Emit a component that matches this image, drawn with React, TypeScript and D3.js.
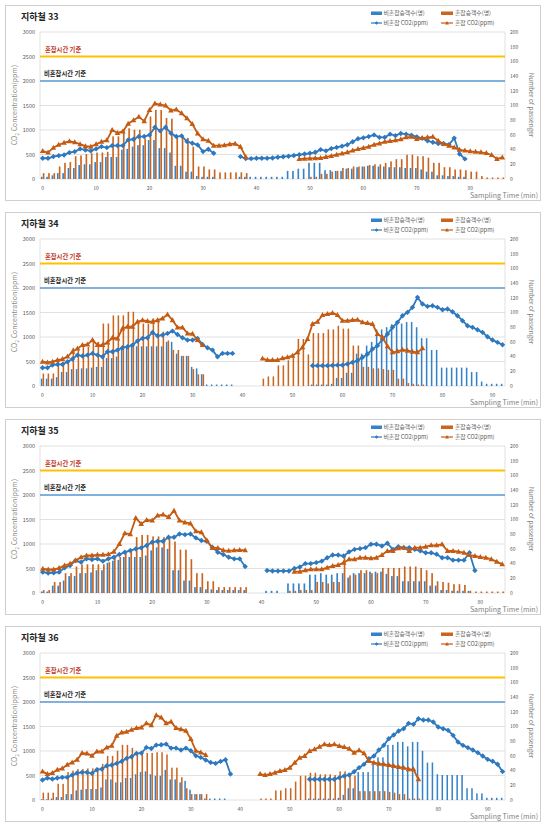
import React from 'react';
import * as d3 from 'd3';

const _ = null;

const titles = ['지하철 33', '지하철 34', '지하철 35', '지하철 36'];
const legendLabels = ['비혼잡승객수(명)', '혼잡승객수(명)', '비혼잡 CO2(ppm)', '혼잡 CO2(ppm)'];
const leftTicks = [0, 500, 1000, 1500, 2000, 2500, 3000];
const rightTicks = [0, 20, 40, 60, 80, 100, 120, 140, 160, 180, 200];
const limitValues = [2500, 2000];
const limitLabels = ['혼잡시간 기준', '비혼잡시간 기준'];

// ---- 지하철 33 ----
const blueCo2_33 = [
  423, 423, 457, 477, 491, 539, 559, 614, 593, 573,
  614, 661, 641, 682, 682, 682, 798, 811, 866, 866,
  900, 1057, 982, 1057, 934, 866, 880, 764, 730, 696,
  559, 607, 525, _, _, _, _, 457, 416, 416,
  423, 423, 423, 430, 445, 455, 465, 480, 495, 510,
  525, 545, 600, 575, 620, 645, 670, 700, 760, 820,
  840, 865, 900, 850, 850, 915, 885, 930, 915, 895,
  860, 830, 780, 750, 725, 725, 700, 835, 510, 410,
  _, _, _, _, _, _, _,
];
const orangeCo2_33 = [
  570, 540, 640, 700, 740, 770, 750, 710, 670, 660,
  710, 760, 790, 1000, 940, 970, 1130, 1200, 1270, 1180,
  1410, 1540, 1520, 1500, 1400, 1420, 1340, 1240, 1120, 930,
  810, 780, 680, 680, 690, 710, 720, 660, 450, _,
  _, _, _, _, _, _, _, _, 407, 415,
  420, 425, 428, 450, 470, 495, 520, 545, 580, 610,
  635, 660, 700, 725, 760, 775, 790, 810, 850, 860,
  815, 835, 850, 860, 780, 715, 680, 645, 595, 580,
  565, 555, 545, 530, 490, 410, 440,
];
const bluePax_33 = [
  3, 3, 5, 8, 8, 15, 15, 19, 20, 20,
  23, 23, 30, 30, 30, 40, 41, 44, 46, 46,
  53, 53, 42, 42, 36, 18, 18, 10, 10, 4,
  3, 3, 3, 0, 0, 0, 0, 3, 3, 3,
  3, 3, 3, 3, 3, 3, 11, 11, 14, 14,
  22, 22, 22, 12, 12, 11, 11, 14, 14, 16,
  17, 18, 18, 17, 17, 16, 16, 16, 15, 15,
  15, 13, 10, 10, 5, 5, 4, 4, 3, 3,
  0, 0, 0, 0, 0, 0, 0,
];
const orangePax_33 = [
  8, 8, 8, 17, 22, 23, 31, 32, 34, 35,
  36, 36, 37, 58, 58, 68, 69, 67, 67, 55,
  85, 94, 94, 83, 82, 58, 58, 56, 44, 17,
  17, 13, 13, 9, 9, 9, 9, 9, 8, 0,
  0, 0, 0, 0, 0, 0, 0, 0, 0, 0,
  3, 3, 7, 7, 10, 11, 15, 15, 17, 17,
  17, 19, 20, 20, 22, 24, 27, 27, 33, 33,
  31, 31, 29, 22, 22, 16, 16, 13, 13, 12,
  10, 10, 4, 2, 2, 2, 2,
];

// ---- 지하철 34 ----
const blueCo2_34 = [
  373, 373, 428, 441, 441, 496, 550, 631, 611, 631,
  665, 631, 598, 700, 700, 733, 781, 801, 835, 917,
  971, 985, 1093, 1025, 1039, 1073, 1120, 1052, 985, 937,
  937, 971, 849, 781, 733, 598, 665, 665, 665, _,
  _, _, _, _, _, _, _, _, _, _,
  _, _, _, _, 415, 415, 415, 415, 420, 425,
  425, 449, 483, 517, 585, 653, 755, 823, 959, 1061,
  1197, 1299, 1435, 1503, 1605, 1809, 1673, 1625, 1639, 1605,
  1557, 1571, 1516, 1435, 1333, 1231, 1197, 1149, 1095, 1006,
  938, 891, 843,
];
const orangeCo2_34 = [
  496, 482, 496, 530, 550, 600, 700, 767, 835, 849,
  937, 835, 835, 890, 985, 970, 1175, 1209, 1209, 1310,
  1344, 1324, 1310, 1344, 1378, 1460, 1344, 1195, 1195, 1073,
  1066, 937, 835, _, _, _, _, _, _, _,
  _, _, _, _, 560, 530, 530, 530, 564, 585,
  619, 687, 789, 959, 1265, 1312, 1448, 1469, 1489, 1448,
  1333, 1333, 1346, 1353, 1299, 1285, 1265, 1061, 993, 809,
  687, 707, 741, 721, 700, 687, 768, _, _, _,
  _, _, _, _, _, _, _, _, _, _,
  _, _, _,
];
const bluePax_34 = [
  10, 10, 10, 12, 19, 19, 23, 23, 24, 24,
  25, 26, 26, 38, 38, 40, 51, 53, 56, 54,
  54, 54, 54, 54, 54, 60, 60, 44, 41, 41,
  26, 24, 16, 2, 2, 2, 2, 2, 2, 0,
  0, 0, 0, 0, 0, 0, 0, 0, 0, 0,
  0, 0, 0, 0, 2, 2, 2, 2, 3, 11,
  11, 18, 18, 44, 44, 55, 60, 77, 77, 80,
  84, 85, 85, 87, 87, 80, 65, 65, 49, 49,
  25, 25, 25, 25, 25, 25, 19, 19, 6, 3,
  3, 3, 3,
];
const orangePax_34 = [
  17, 17, 17, 33, 33, 33, 52, 52, 53, 53,
  60, 60, 85, 85, 96, 96, 96, 101, 101, 85,
  85, 85, 92, 90, 74, 62, 49, 49, 41, 41,
  23, 16, 16, 0, 0, 0, 0, 0, 0, 0,
  0, 0, 0, 0, 10, 13, 13, 28, 28, 35,
  43, 64, 64, 43, 72, 72, 72, 77, 77, 82,
  78, 78, 55, 55, 26, 26, 24, 24, 23, 22,
  22, 10, 10, 4, 3, 2, 2, 0, 0, 0,
  0, 0, 0, 0, 0, 0, 0, 0, 0, 0,
  0, 0, 0,
];

// ---- 지하철 35 ----
const blueCo2_35 = [
  426, 406, 413, 426, 514, 562, 663, 630, 697, 684,
  697, 650, 697, 731, 785, 833, 867, 900, 921, 968,
  1036, 1056, 1056, 1137, 1137, 1205, 1191, 1205, 1124, 1070,
  1056, 934, 833, 785, 731, 697, 697, 542, _, _,
  _, 460, 450, 450, 450, 450, 500, 530, 600, 600,
  620, 650, 720, 775, 775, 755, 840, 890, 905, 925,
  995, 995, 960, 1015, 890, 945, 925, 925, 890, 860,
  820, 820, 790, 720, 720, 670, 670, 670, 820, 460,
  _, _, _, _, _,
];
const orangeCo2_35 = [
  494, 480, 480, 508, 562, 596, 663, 731, 765, 765,
  779, 779, 790, 840, 1000, 1220, 1200, 1530, 1410, 1490,
  1480, 1580, 1600, 1550, 1680, 1480, 1440, 1420, 1260, 1240,
  1070, 920, 920, 870, 860, 870, 880, 870, _, _,
  _, _, _, _, _, _, 435, 435, 462, 483,
  483, 483, 517, 551, 571, 619, 687, 687, 721, 721,
  707, 721, 775, 857, 857, 911, 925, 857, 925, 925,
  945, 972, 972, 993, 857, 857, 843, 823, 775, 755,
  734, 721, 687, 639, 585,
];
const bluePax_35 = [
  2, 2, 10, 10, 17, 23, 23, 27, 27, 28,
  31, 31, 41, 44, 45, 49, 49, 49, 49, 51,
  58, 62, 62, 60, 31, 31, 17, 17, 8, 8,
  5, 5, 4, 4, 4, 4, 4, 4, 0, 0,
  0, 3, 3, 3, 0, 13, 13, 13, 13, 25,
  25, 27, 25, 25, 27, 27, 21, 27, 27, 27,
  29, 29, 29, 26, 23, 23, 16, 16, 16, 16,
  16, 10, 10, 4, 4, 3, 3, 3, 3, 0,
  0, 0, 0, 0, 0,
];
const orangePax_35 = [
  4, 4, 15, 15, 27, 27, 36, 39, 39, 39,
  39, 39, 42, 49, 49, 55, 60, 76, 79, 79,
  77, 77, 76, 76, 70, 59, 59, 46, 27, 27,
  16, 16, 8, 8, 8, 8, 8, 8, 0, 0,
  0, 0, 0, 0, 0, 3, 3, 4, 4, 4,
  15, 15, 13, 15, 15, 51, 24, 25, 31, 31,
  27, 27, 34, 34, 34, 34, 36, 36, 36, 34,
  31, 27, 16, 15, 14, 12, 12, 11, 3, 2,
  2, 2, 2, 2, 2,
];

// ---- 지하철 36 ----
const blueCo2_36 = [
  407, 448, 428, 448, 462, 462, 509, 550, 564, 564,
  543, 618, 631, 699, 713, 747, 788, 849, 883, 951,
  957, 1073, 1052, 1120, 1127, 1141, 1059, 1059, 1019, 1059,
  1005, 903, 869, 815, 767, 747, 788, 822, 530, _,
  _, _, _, _, _, _, _, _, _, _,
  _, _, _, _, 422, 422, 422, 422, 422, 422,
  456, 490, 510, 578, 660, 728, 843, 898, 1020, 1115,
  1251, 1326, 1407, 1455, 1564, 1544, 1659, 1632, 1632, 1591,
  1489, 1455, 1421, 1319, 1183, 1115, 1068, 1020, 966, 898,
  830, 790, 730, 580,
];
const orangeCo2_36 = [
  584, 530, 550, 618, 645, 720, 767, 822, 957, 951,
  903, 991, 991, 1073, 1107, 1310, 1378, 1392, 1433, 1467,
  1480, 1568, 1528, 1731, 1684, 1568, 1596, 1467, 1446, 1412,
  1243, 1005, 971, 917, _, _, _, _, _, _,
  _, _, _, _, 530, 509, 530, 558, 592, 612,
  660, 762, 864, 898, 1000, 1034, 1088, 1136, 1122, 1136,
  1102, 1081, 1047, 966, 1013, 952, 796, 762, 741, 728,
  714, 694, 673, 660, 626, 626, 422, _, _, _,
  _, _, _, _, _, _, _, _, _, _,
  _, _, _, _,
];
const bluePax_36 = [
  1, 1, 2, 4, 4, 8, 8, 13, 14, 15,
  15, 15, 17, 28, 28, 24, 24, 30, 30, 35,
  38, 39, 35, 33, 33, 41, 28, 28, 24, 26,
  14, 8, 8, 2, 2, 2, 2, 2, 0, 0,
  0, 0, 0, 0, 0, 0, 0, 0, 0, 0,
  0, 0, 0, 0, 2, 2, 2, 2, 2, 2,
  3, 7, 16, 16, 38, 38, 38, 51, 58, 58,
  75, 75, 79, 79, 73, 79, 79, 67, 51, 51,
  35, 34, 34, 34, 34, 34, 16, 16, 9, 9,
  3, 3, 3, 3,
];
const orangePax_36 = [
  10, 10, 10, 22, 22, 38, 40, 42, 42, 43,
  43, 44, 49, 60, 60, 67, 75, 75, 71, 65,
  65, 64, 64, 65, 65, 62, 44, 44, 31, 16,
  8, 8, 8, 8, 0, 0, 0, 0, 0, 0,
  0, 0, 0, 0, 2, 2, 2, 13, 13, 16,
  16, 25, 33, 33, 37, 37, 35, 35, 35, 34,
  39, 39, 33, 33, 12, 12, 12, 12, 12, 12,
  11, 10, 8, 8, 2, 2, 2, 0, 0, 0,
  0, 0, 0, 0, 0, 0, 0, 0, 0, 0,
  0, 0, 0, 0,
];

const panels = [
  { title: titles[0], blueCo2: blueCo2_33, orangeCo2: orangeCo2_33, bluePax: bluePax_33, orangePax: orangePax_33 },
  { title: titles[1], blueCo2: blueCo2_34, orangeCo2: orangeCo2_34, bluePax: bluePax_34, orangePax: orangePax_34 },
  { title: titles[2], blueCo2: blueCo2_35, orangeCo2: orangeCo2_35, bluePax: bluePax_35, orangePax: orangePax_35 },
  { title: titles[3], blueCo2: blueCo2_36, orangeCo2: orangeCo2_36, bluePax: bluePax_36, orangePax: orangePax_36 },
];

const FONT = "'Noto Sans CJK KR', 'Noto Sans', sans-serif";
const BLUE = '#2E78BE';
const ORANGE = '#C55A11';
const BLUE_BAR = '#3682C6';
const ORANGE_BAR = '#C9651F';
const GRID = '#D9D9D9';
const AXIS_TXT = '#595959';

const diamond = 'M0,-2.7L2.7,0L0,2.7L-2.7,0Z';
const triangle = 'M0,-3L2.8,2L-2.8,2Z';

type PanelData = typeof panels[number];

function Panel({ p, top }: { p: PanelData; top: number }) {
  const n = p.blueCo2.length;
  const cats = d3.range(n);
  const x = d3.scaleBand<number>().domain(cats).range([40, 505]);
  const bw = x.bandwidth();
  const xs = d3.scaleBand<string>().domain(['b', 'o']).range([0, bw]).paddingInner(0.12).paddingOuter(0.5);
  const yL = d3.scaleLinear().domain([0, 3000]).range([top + 174, top + 27]);
  const yR = d3.scaleLinear().domain([0, 200]).range([top + 174, top + 27]);
  const cx = (i: number) => (x(i) as number) + bw / 2;
  const line = d3
    .line<number | null>()
    .defined((d) => d != null)
    .x((_d, i) => cx(i))
    .y((d) => yL(d as number));
  const xTicks = cats.filter((c) => c % 10 === 0);
  const plotL = 40, plotR = 505;

  return (
    <g>
      <rect x={5.5} y={top + 0.5} width={535} height={195} fill="#fff" stroke="#CFCFCF" strokeWidth={1} />
      <text x={21} y={top + 15} fontFamily={FONT} fontSize={9} fontWeight="bold" fill="#222">{p.title}</text>

      {/* grid */}
      {leftTicks.map((t) => (
        <line key={t} x1={plotL} x2={plotR} y1={yL(t)} y2={yL(t)} stroke={GRID} strokeWidth={0.8} />
      ))}
      <line x1={plotL} x2={plotL} y1={yL(0)} y2={yL(3000)} stroke={GRID} strokeWidth={0.8} />
      <line x1={plotR} x2={plotR} y1={yL(0)} y2={yL(3000)} stroke={GRID} strokeWidth={0.8} />

      {/* left ticks */}
      {leftTicks.map((t) => (
        <text key={t} x={35} y={yL(t) + 2} textAnchor="end" fontFamily={FONT} fontSize={5.5} fill={AXIS_TXT}>{t}</text>
      ))}
      {/* right ticks */}
      {rightTicks.map((t) => (
        <text key={t} x={510} y={yR(t) + 1.8} fontFamily={FONT} fontSize={5} fill={AXIS_TXT}>{t}</text>
      ))}
      {/* x ticks */}
      {xTicks.map((t) => (
        <text key={t} x={cx(t)} y={top + 185} textAnchor="middle" fontFamily={FONT} fontSize={5} fill={AXIS_TXT}>{t}</text>
      ))}

      {/* axis titles */}
      <text transform={`translate(17,${top + 100}) rotate(-90)`} textAnchor="middle" fontFamily={FONT} fontSize={7} fill="#8C8C8C">
        CO<tspan fontSize={5} dy={1.5}>2</tspan><tspan dy={-1.5}> Concentration(ppm)</tspan>
      </text>
      <text transform={`translate(529,${top + 100}) rotate(90)`} textAnchor="middle" fontFamily={FONT} fontSize={6.5} fill="#7F7F7F">
        Number of passenger
      </text>
      <text x={538} y={top + 193} textAnchor="end" fontFamily={FONT} fontSize={7} fill="#7F7F7F">Sampling Time (min)</text>

      {/* limit lines */}
      <line x1={plotL} x2={plotR} y1={yL(limitValues[0])} y2={yL(limitValues[0])} stroke="#FFC000" strokeWidth={2} />
      <line x1={plotL} x2={plotR} y1={yL(limitValues[1])} y2={yL(limitValues[1])} stroke="#5B9BD5" strokeWidth={1.6} />
      <text x={45} y={yL(limitValues[0]) - 5} fontFamily={FONT} fontSize={6.3} fontWeight="bold" fill="#C0392B">{limitLabels[0]}</text>
      <text x={44} y={yL(limitValues[1]) - 5} fontFamily={FONT} fontSize={6.3} fontWeight="bold" fill="#262626">{limitLabels[1]}</text>

      {/* bars */}
      {p.bluePax.map((v, i) =>
        v > 0 ? (
          <rect key={'b' + i} x={(x(i) as number) + (xs('b') as number)} y={yR(v)} width={xs.bandwidth()} height={yR(0) - yR(v)} fill={BLUE_BAR} />
        ) : null
      )}
      {p.orangePax.map((v, i) =>
        v > 0 ? (
          <rect key={'o' + i} x={(x(i) as number) + (xs('o') as number)} y={yR(v)} width={xs.bandwidth()} height={yR(0) - yR(v)} fill={ORANGE_BAR} />
        ) : null
      )}

      {/* lines */}
      <path d={line(p.blueCo2) || ''} fill="none" stroke={BLUE} strokeWidth={1.8} />
      {p.blueCo2.map((v, i) =>
        v != null ? <path key={'bm' + i} d={diamond} transform={`translate(${cx(i)},${yL(v)})`} fill={BLUE} /> : null
      )}
      <path d={line(p.orangeCo2) || ''} fill="none" stroke={ORANGE} strokeWidth={1.8} />
      {p.orangeCo2.map((v, i) =>
        v != null ? <path key={'om' + i} d={triangle} transform={`translate(${cx(i)},${yL(v)})`} fill={ORANGE} /> : null
      )}

      {/* legend */}
      <g fontFamily={FONT} fontSize={5.8} fill={AXIS_TXT}>
        <rect x={371} y={top + 6.5} width={11} height={3.5} fill={BLUE_BAR} />
        <text x={383.5} y={top + 10.3}>{legendLabels[0]}</text>
        <rect x={441} y={top + 6.5} width={12} height={3.5} fill={ORANGE_BAR} />
        <text x={455} y={top + 10.3}>{legendLabels[1]}</text>
        <line x1={371} x2={382} y1={top + 18} y2={top + 18} stroke={BLUE} strokeWidth={1.2} />
        <path d="M0,-1.8L1.8,0L0,1.8L-1.8,0Z" transform={`translate(376.5,${top + 18})`} fill={BLUE} />
        <text x={383.5} y={top + 20}>{legendLabels[2]}</text>
        <line x1={441} x2={453} y1={top + 18} y2={top + 18} stroke={ORANGE} strokeWidth={1.2} />
        <path d="M0,-2L1.9,1.4L-1.9,1.4Z" transform={`translate(447,${top + 18})`} fill={ORANGE} />
        <text x={455} y={top + 20}>{legendLabels[3]}</text>
      </g>
    </g>
  );
}

export default function App() {
  const tops = [5, 212, 419, 626];
  return (
    <svg width={550} height={827} viewBox="0 0 550 827" style={{ position: 'absolute', left: 0, top: 0, background: '#fff' }}>
      <rect x={0} y={0} width={550} height={827} fill="#fff" />
      {panels.map((p, i) => (
        <Panel key={i} p={p} top={tops[i]} />
      ))}
    </svg>
  );
}
